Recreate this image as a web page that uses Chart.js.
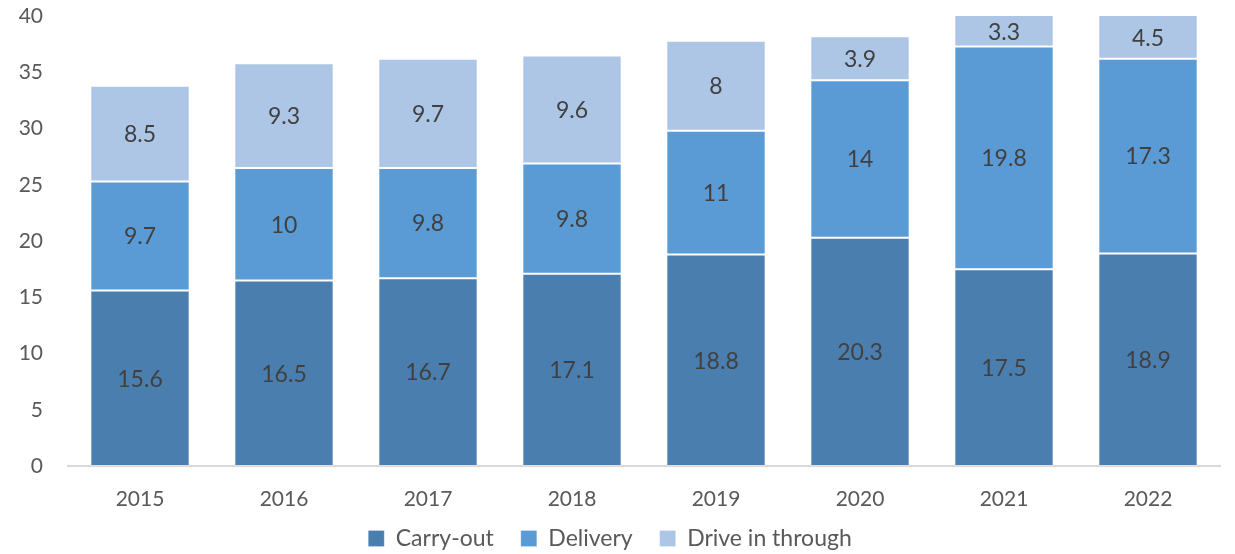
<!DOCTYPE html>
<html>
<head>
<meta charset="utf-8">
<script src="https://cdn.jsdelivr.net/npm/chart.js@4/dist/chart.umd.min.js"></script>
<style>
  html, body { margin: 0; padding: 0; background: #fff; }
  #wrap { width: 1235px; height: 554px; }
</style>
</head>
<body>
<div id="wrap"><canvas id="chart"></canvas></div>
<script>
const years = ['2015', '2016', '2017', '2018', '2019', '2020', '2021', '2022'];
const carryOut = [15.6, 16.5, 16.7, 17.1, 18.8, 20.3, 17.5, 18.9];
const delivery = [9.7, 10, 9.8, 9.8, 11, 14, 19.8, 17.3];
const driveIn = [8.5, 9.3, 9.7, 9.6, 8, 3.9, 3.3, 4.5];
const yTicks = [0, 5, 10, 15, 20, 25, 30, 35, 40];

const FONT = 'Lato, "Open Sans", sans-serif';

// writes each segment's value in the middle of the part that is visible
const segmentLabels = {
  id: 'segmentLabels',
  afterLayout(chart) {
    // the x axis box is kept short so the legend sits close; let its labels overflow
    chart.scales.x.bottom += 24;
  },
  afterDatasetsDraw(chart) {
    const ctx = chart.ctx;
    const area = chart.chartArea;
    ctx.save();
    ctx.font = '23px ' + FONT;
    ctx.fillStyle = '#404040';
    ctx.textAlign = 'center';
    ctx.textBaseline = 'middle';
    chart.data.datasets.forEach((ds, i) => {
      chart.getDatasetMeta(i).data.forEach((bar, j) => {
        const p = bar.getProps(['x', 'y', 'base'], true);
        const top = Math.max(p.y, area.top);
        const bottom = Math.min(p.base, area.bottom);
        ctx.fillText(String(ds.data[j]), p.x, (top + bottom) / 2 + 1);
      });
    });
    ctx.restore();
  }
};

new Chart(document.getElementById('chart'), {
  type: 'bar',
  data: {
    labels: years,
    datasets: [
      { label: 'Carry-out', data: carryOut, backgroundColor: '#4a7eaf' },
      { label: 'Delivery', data: delivery, backgroundColor: '#5b9bd5' },
      { label: 'Drive in through', data: driveIn, backgroundColor: '#adc6e5' }
    ].map(d => Object.assign(d, {
      borderColor: 'rgba(255,255,255,0.25)',
      borderWidth: 1,
      borderSkipped: false,
      categoryPercentage: 0.69,
      barPercentage: 1
    }))
  },
  options: {
    responsive: true,
    maintainAspectRatio: false,
    animation: false,
    layout: { padding: { top: 16, right: 15, left: 0, bottom: -6 } },
    plugins: {
      legend: {
        position: 'bottom',
        labels: {
          color: '#595959',
          font: { family: FONT, size: 23 },
          boxWidth: 16,
          boxHeight: 16,
          padding: 27
        }
      },
      tooltip: { enabled: false }
    },
    scales: {
      x: {
        stacked: true,
        grid: { display: false, drawTicks: false },
        border: { color: '#d9d9d9', width: 2 },
        ticks: { color: '#595959', font: { family: FONT, size: 21 }, padding: 21 },
        afterFit: s => { s.height = 34; }
      },
      y: {
        stacked: true,
        min: 0,
        max: 40,
        afterBuildTicks: s => { s.ticks = yTicks.map(v => ({ value: v })); },
        afterFit: s => { s.width = 68; s.paddingTop = 0; s.paddingBottom = 0; },
        grid: { display: false, drawTicks: false },
        border: { display: false },
        ticks: { color: '#595959', font: { family: FONT, size: 21 }, padding: 25 }
      }
    }
  },
  plugins: [segmentLabels]
});
</script>
</body>
</html>
